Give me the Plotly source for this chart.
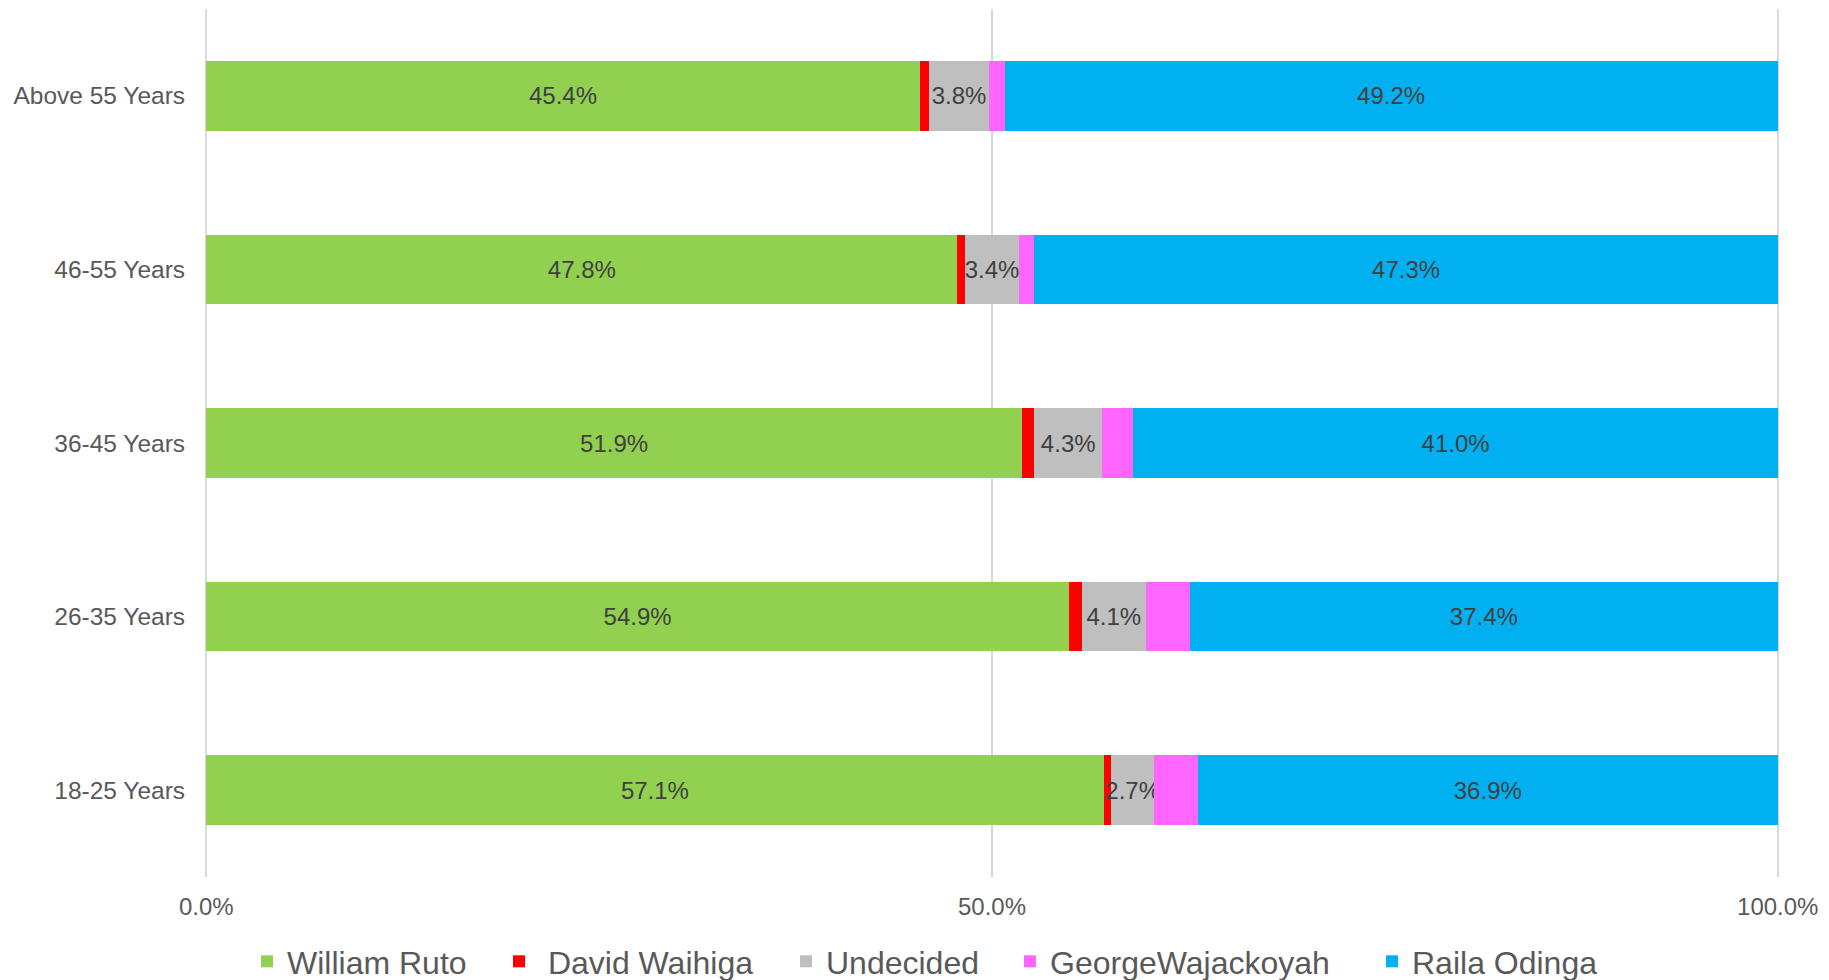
import plotly.graph_objects as go

categories = ["18-25 Years", "26-35 Years", "36-45 Years", "46-55 Years", "Above 55 Years"]
ruto = [57.1, 54.9, 51.9, 47.8, 45.4]
waihiga = [0.5, 0.8, 0.8, 0.5, 0.6]
undecided = [2.7, 4.1, 4.3, 3.4, 3.8]
wajackoyah = [2.8, 2.8, 2.0, 1.0, 1.0]
raila = [36.9, 37.4, 41.0, 47.3, 49.2]

x_tickvals = [0, 50, 100]
x_ticktext = ["0.0%", "50.0%", "100.0%"]

series = [
    ("William Ruto", ruto, "#92D050", True),
    (" David Waihiga", waihiga, "#FF0000", False),
    ("Undecided", undecided, "#BFBFBF", True),
    ("GeorgeWajackoyah", wajackoyah, "#FF66FF", False),
    ("Raila Odinga", raila, "#00B0F0", True),
]

FONT = "Liberation Sans, Arial, sans-serif"

W, H = 1829, 980
ML, MR, MT, MB = 205, 50, 9, 103
PW = W - ML - MR
PH = H - MT - MB

# legend symbol left edges (px) in the reference
legend_symbol_left = [261, 513, 800, 1024, 1386]

fig = go.Figure()
legend_layouts = {}
for i, (name, vals, color, show_text) in enumerate(series):
    lname = "legend" if i == 0 else "legend%d" % (i + 1)
    fig.add_trace(go.Bar(
        y=categories, x=vals, name=name, orientation="h",
        legend=lname,
        marker=dict(color=color, line=dict(width=0)),
        texttemplate="%{x:.1f}%" if show_text else None,
        textposition="inside" if show_text else "none",
        insidetextanchor="middle",
        textangle=0,
        textfont=dict(family=FONT, size=24, color="#404040"),
        hoverinfo="x+y+name",
    ))
    xpx = legend_symbol_left[i] - ML - 14
    legend_layouts[lname] = dict(
        orientation="h", x=xpx / PW, xanchor="left", y=-57 / PH, yanchor="top",
        font=dict(family=FONT, size=32, color="#595959"),
        bgcolor="rgba(0,0,0,0)", borderwidth=0,
    )

fig.update_layout(
    barmode="stack",
    bargap=0.6,
    width=W, height=H,
    margin=dict(l=ML, r=MR, t=MT, b=MB, autoexpand=False),
    plot_bgcolor="white", paper_bgcolor="white",
    font=dict(family=FONT, color="#595959"),
    uniformtext=dict(mode="show", minsize=24),
    xaxis=dict(
        range=[-0.08, 100.08], tickvals=x_tickvals, ticktext=x_ticktext,
        showgrid=True, gridcolor="#D9D9D9", gridwidth=1.5, zeroline=False,
        showline=False, ticks="outside", ticklen=8, tickcolor="rgba(0,0,0,0)",
        tickfont=dict(family=FONT, size=24, color="#595959"),
        automargin=False, fixedrange=True,
    ),
    yaxis=dict(
        categoryorder="array", categoryarray=categories,
        showgrid=False, showline=False, zeroline=False,
        ticks="outside", ticklen=14, tickcolor="rgba(0,0,0,0)",
        tickfont=dict(family=FONT, size=24.5, color="#595959"),
        automargin=False, fixedrange=True,
    ),
    showlegend=True,
    **legend_layouts,
)

fig.write_html(
    "out.html",
    config={"displayModeBar": False},
    post_script="document.body.style.margin='0';document.body.style.overflow='hidden';",
)
